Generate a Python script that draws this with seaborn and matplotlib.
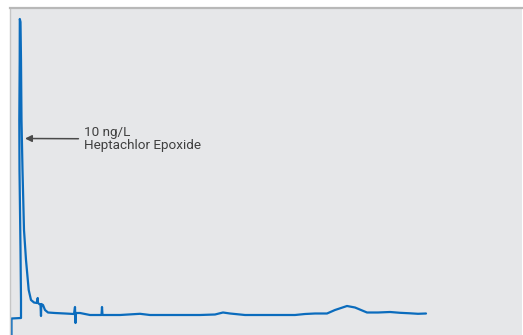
import matplotlib
matplotlib.use("Agg")
import matplotlib.pyplot as plt
import seaborn as sns
import pandas as pd

# Chromatogram trace: retention position vs. detector response (arbitrary units)
retention_time = [
    1.5, 1.5, 11, 11, 10.5, 9.5, 9.3, 9.7, 9.8, 10.5, 11, 11.5, 12.5, 14, 16,
    18.7, 21, 24, 27, 27.7, 28, 30.5, 31, 31.3, 33, 35, 38, 45, 55, 64, 65,
    65.5, 66, 70, 75, 80, 91.5, 92, 92.5, 110, 130, 140, 190, 205, 213, 220,
    235, 260, 285, 295, 305, 317, 325, 337, 345, 357, 368, 380, 390, 400, 408,
    416,
]
detector_response = [
    -1, 16.5, 17, 35, 85, 165, 215, 275, 316, 313, 275, 215, 165, 105, 75,
    45, 35, 32.5, 32, 37, 32, 30, 19, 31, 30, 25, 22.5, 22, 21.5, 21, 28,
    12, 22, 22, 21, 20, 20, 28, 20, 20, 21.2, 20, 20, 20.5, 22.5, 21.5,
    20, 20, 20, 21, 21.5, 21.5, 25, 29, 27.5, 22.5, 22.5, 23, 22.2, 21.7, 21.2,
    21.5,
]

peak_label = "10 ng/L\nHeptachlor Epoxide"
peak_arrow_tip = (15, 196.5)
peak_label_pos = (74.5, 196)

trace = pd.DataFrame({"time": retention_time, "response": detector_response})

sns.set_theme(style="white")
plt.rcParams["font.family"] = ["Roboto", "DejaVu Sans"]

W, H = 523, 335
fig = plt.figure(figsize=(W / 100, H / 100), dpi=100)
fig.patch.set_facecolor("white")
ax = fig.add_axes([10 / W, 0, 512 / W, 327.5 / H])
ax.set_facecolor("#e6e7e9")

sns.lineplot(
    data=trace, x="time", y="response", sort=False, estimator=None,
    color="#0b6cbd", linewidth=1.6, ax=ax,
)

ax.annotate(
    peak_label, xy=peak_arrow_tip, xytext=peak_label_pos,
    ha="left", va="center", fontsize=9.7, color="#3f3f3f", linespacing=1.0,
    arrowprops=dict(arrowstyle="-|>", color="#4a4a4a", lw=1.1,
                    mutation_scale=10, shrinkA=2, shrinkB=0),
)

ax.set_xlim(0, 512)
ax.set_ylim(0, 327.5)
ax.set_xticks([])
ax.set_yticks([])
ax.set_xlabel("")
ax.set_ylabel("")
for side in ("right", "bottom"):
    ax.spines[side].set_visible(False)
ax.spines["top"].set_color("#b8b8b8")
ax.spines["top"].set_linewidth(1.6)
ax.spines["left"].set_color("#c6c6c6")
ax.spines["left"].set_linewidth(1.0)

fig.savefig("out.png", dpi=100, facecolor="white")
